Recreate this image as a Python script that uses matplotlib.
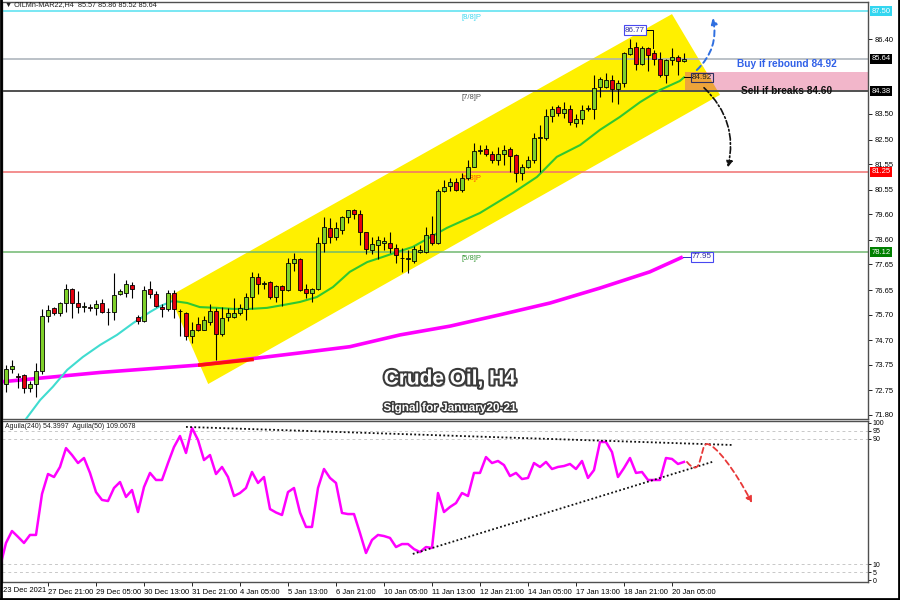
import matplotlib
matplotlib.use('Agg')
import matplotlib.pyplot as plt
import numpy as np
from matplotlib.patches import Polygon, Rectangle, FancyArrowPatch
from matplotlib.path import Path
import matplotlib.patheffects as pe
import matplotlib.transforms as mtransforms

plt.rcParams['font.family'] = ['Liberation Sans', 'DejaVu Sans']

# ---------------- data (H4 candles, OILMn-MAR22) ----------------
opens = [73.0, 73.59, 73.3, 73.35, 72.85, 73.0, 73.5, 75.65, 75.95, 75.75,
         76.15, 76.7, 76.15, 76.0, 76.0, 75.95, 76.15, 75.8, 75.8, 76.5,
         76.55, 76.85, 75.6, 75.45, 76.7, 76.5, 76.0, 75.9, 76.55, 75.85,
         75.75, 74.85, 75.35, 75.1, 75.4, 75.85, 74.95, 75.6, 75.6, 75.75,
         75.9, 76.4, 77.15, 76.88, 76.95, 76.4, 76.8, 76.65, 77.7, 77.85,
         76.7, 76.55, 76.7, 78.5, 79.05, 78.7, 79.0, 79.5, 79.75, 79.6,
         78.9, 78.2, 78.4, 78.5, 78.5, 78.3, 77.9, 77.85, 77.8, 78.15,
         78.15, 78.85, 78.5, 80.5, 80.7, 80.85, 80.55, 81.0, 81.45, 82.05,
         82.15, 81.95, 81.7, 81.95, 82.15, 81.9, 81.2, 81.45, 81.7, 82.55,
         82.55, 83.4, 83.75, 83.55, 83.7, 83.15, 83.3, 83.7, 83.7, 84.55,
         84.55, 84.8, 84.45, 84.7, 85.82, 86.1, 85.45, 86.05, 85.85, 85.65,
         85.0, 85.6, 85.72, 85.57]
highs = [73.74, 73.93, 73.43, 73.4, 73.1, 73.8, 75.9, 76.07, 76.0, 76.2,
         76.9, 76.75, 76.6, 76.2, 76.1, 76.25, 76.3, 75.96, 77.3, 76.7,
         77.05, 76.95, 75.7, 76.8, 77.0, 76.6, 76.1, 76.65, 76.65, 75.9,
         75.8, 75.4, 75.6, 75.65, 76.1, 75.95, 76.0, 75.95, 76.35, 76.1,
         76.55, 77.35, 77.3, 77.0, 77.0, 76.85, 76.85, 77.9, 78.1, 77.9,
         76.9, 76.75, 78.7, 79.5, 79.45, 79.3, 79.55, 79.78, 79.8, 79.75,
         78.9, 78.7, 78.75, 78.7, 78.9, 78.45, 78.3, 78.2, 78.35, 78.4,
         79.1, 79.55, 80.6, 80.95, 81.0, 81.0, 81.2, 81.7, 82.35, 82.3,
         82.3, 82.05, 82.2, 82.3, 82.2, 81.95, 81.55, 81.85, 82.75, 83.05,
         83.7, 83.8, 83.85, 83.95, 83.85, 83.5, 83.85, 83.85, 85.0, 84.95,
         85.1, 85.0, 84.8, 85.9, 86.4, 86.3, 86.15, 86.1, 86.0, 85.9,
         85.65, 86.05, 85.8, 85.86]
lows = [72.69, 73.43, 72.85, 72.65, 72.7, 72.5, 73.4, 75.4, 75.7, 75.65,
        75.8, 75.55, 75.75, 75.8, 75.85, 75.7, 75.75, 75.3, 75.5, 76.45,
        76.4, 76.35, 75.35, 75.4, 76.35, 76.0, 75.6, 75.85, 75.55, 74.85,
        74.7, 74.6, 75.05, 75.1, 75.3, 73.95, 74.85, 75.45, 75.55, 75.7,
        75.5, 75.9, 76.5, 76.7, 76.3, 76.2, 76.05, 76.6, 77.4, 76.6,
        76.35, 76.2, 76.65, 78.15, 78.5, 78.6, 78.85, 79.25, 79.4, 78.4,
        78.05, 78.05, 77.85, 78.2, 78.1, 77.7, 77.35, 77.3, 77.7, 78.1,
        78.1, 78.4, 78.45, 80.45, 80.5, 80.5, 80.45, 80.95, 81.45, 81.95,
        81.85, 81.6, 81.5, 81.5, 81.25, 80.85, 80.95, 81.4, 81.6, 81.25,
        82.5, 83.2, 83.4, 83.35, 83.05, 83.0, 83.1, 83.6, 83.3, 84.15,
        84.5, 83.95, 83.9, 84.55, 85.8, 85.2, 85.4, 85.15, 85.4, 84.95,
        84.7, 85.4, 85.0, 85.52]
closes = [73.59, 73.7, 73.28, 72.85, 73.0, 73.5, 75.65, 75.88, 75.75, 76.15,
          76.7, 76.15, 76.0, 76.02, 75.95, 76.1, 75.8, 75.78, 76.45, 76.6,
          76.9, 76.7, 75.45, 76.65, 76.5, 76.05, 75.9, 76.55, 75.9, 75.82,
          74.85, 75.1, 75.1, 75.5, 75.85, 74.95, 75.55, 75.75, 75.75, 75.95,
          76.4, 77.15, 76.9, 76.9, 76.4, 76.8, 76.65, 77.7, 77.85, 76.65,
          76.55, 76.7, 78.5, 79.1, 78.7, 79.05, 79.5, 79.75, 79.6, 78.9,
          78.25, 78.45, 78.6, 78.55, 78.3, 78.0, 77.88, 77.9, 78.25, 78.2,
          78.8, 78.5, 80.5, 80.65, 80.85, 80.55, 81.0, 81.45, 82.05, 82.1,
          81.95, 81.7, 81.95, 82.1, 81.85, 81.2, 81.45, 81.7, 82.55, 82.57,
          83.4, 83.7, 83.55, 83.7, 83.2, 83.3, 83.65, 83.72, 84.5, 84.85,
          84.8, 84.45, 84.7, 85.85, 86.05, 85.45, 86.05, 85.8, 85.65, 85.0,
          85.6, 85.7, 85.55, 85.64]

# fast moving average (bar position, price)
ma_pos = [3.2, 5.7, 7.8, 10.2, 12.8, 15.7, 18.5, 21.2, 24.0, 25.7, 27.8,
          30.2, 32.3, 35.2, 37.8, 40.7, 43.5, 46.2, 49.0, 51.8, 54.5, 57.3,
          60.2, 62.8, 65.2, 67.8, 73.5, 79.0, 84.5, 88.5, 91.8, 95.7, 99.0,
          102.3, 105.7, 109.0, 112.3, 113.0]
ma_val = [71.6, 72.38, 72.89, 73.55, 74.05, 74.52, 74.91, 75.37, 75.80, 76.03, 76.23,
          76.15, 75.99, 75.96, 75.92, 75.92, 75.96, 76.07, 76.19, 76.38, 76.77, 77.36,
          77.74, 77.94, 78.13, 78.33, 79.07, 79.65, 80.43, 81.05, 81.83, 82.29, 82.88,
          83.38, 83.96, 84.43, 84.78, 84.92]
ma_split = 27.8

# slow moving average
slow_pos = [-1, 15.7, 32.3, 49.0, 57.3, 65.7, 74.0, 82.3, 90.7, 99.0, 107.3, 112.8]
slow_val = [73.08, 73.45, 73.74, 74.21, 74.45, 74.91, 75.25, 75.69, 76.15, 76.73, 77.36, 77.94]

# Aguila oscillator, one value per bar starting one bar before first candle
aguila = [8.3, 23.6, 31.2, 27.5, 23.6, 28.7, 28.7, 54.8, 67.5, 65.6,
          72.0, 84.0, 79.6, 74.5, 77.7, 68.2, 56.0, 51.0, 50.3, 58.6,
          62.4, 52.9, 57.3, 43.3, 59.2, 68.2, 63.7, 63.7, 74.5, 84.7,
          91.7, 80.9, 96.8, 89.2, 76.4, 79.6, 67.5, 72.0, 65.6, 53.5,
          55.4, 58.6, 68.8, 61.8, 65.6, 45.2, 43.0, 41.4, 56.0, 58.6,
          43.0, 33.8, 33.8, 58.6, 70.7, 65.0, 61.8, 42.7, 42.0, 42.0,
          29.9, 17.2, 25.5, 28.7, 28.0, 26.8, 21.0, 22.9, 22.9, 19.7,
          17.8, 21.0, 20.4, 55.4, 43.3, 46.5, 49.0, 55.4, 53.5, 68.2,
          68.2, 78.3, 74.5, 75.8, 73.2, 66.2, 68.2, 64.3, 65.0, 74.5,
          72.0, 75.2, 70.7, 72.0, 72.6, 73.9, 70.7, 75.8, 65.0, 70.0,
          87.9, 87.9, 81.5, 65.6, 71.3, 77.7, 68.2, 68.8, 63.7, 63.7,
          63.7, 77.7, 77.1, 73.9, 75.2]

price_ticks = [86.40, 83.50, 82.50, 81.55, 80.55, 79.60, 78.60, 77.65,
               76.65, 75.70, 74.70, 73.75, 72.75, 71.80]
level_prices = [87.50, 85.64, 84.38, 81.25, 78.12]
level_colors = ['#55E0F0', '#A8B0B8', '#505050', '#F07070', '#70B870']
level_box = ['#33D6F0', '#000000', '#000000', '#FF0000', '#008000']
murrey_names = ['[8/8]P', '[7/8]P', '[6/8]P', '[5/8]P']
murrey_prices = [87.50, 84.38, 81.25, 78.12]
murrey_colors = ['#40D8F0', '#505050', '#FF4A10', '#3A9A3A']

date_pos = [7 + 8 * k for k in range(14)]
date_labels = ['27 Dec 21:00', '29 Dec 05:00', '30 Dec 13:00', '31 Dec 21:00',
               '4 Jan 05:00', '5 Jan 13:00', '6 Jan 21:00', '10 Jan 05:00',
               '11 Jan 13:00', '12 Jan 21:00', '14 Jan 05:00', '17 Jan 13:00',
               '18 Jan 21:00', '20 Jan 05:00']

# ---------------- figure ----------------
fig = plt.figure(figsize=(9, 6), dpi=100)
fig.patch.set_facecolor('white')
L, R = 2 / 900, 868 / 900
ax = fig.add_axes([L, 1 - 419 / 600, R - L, (419 - 2) / 600])
ax2 = fig.add_axes([L, 1 - 582 / 600, R - L, (582 - 421) / 600])
XMIN, XMAX = -0.667, 143.67
for a in (ax, ax2):
    a.set_xlim(XMIN, XMAX)
    for s in a.spines.values():
        s.set_color('#505050')
        s.set_linewidth(1.0)
ax.set_ylim(71.64, 87.85)
ax2.set_ylim(-1.27, 101.27)

# channel
chan = [(27.3, 76.42), (111.0, 87.38), (119.0, 84.24), (33.7, 73.0)]
ax.add_patch(Polygon(chan, closed=True, fc='#FFF000', ec='none', zorder=1))

# pink zone + intersection
zone = Rectangle((113.2, 84.43), XMAX - 113.2 + 2, 85.13 - 84.43, fc='#F2B6CA', ec='none', zorder=1.2)
ax.add_patch(zone)
inter = Polygon(chan, closed=True, fc='#EDA43A', ec='none', zorder=1.3)
ax.add_patch(inter)
inter.set_clip_path(Rectangle((113.2, 84.43), 30, 85.13 - 84.43, transform=ax.transData))

# horizontal levels
for p, col in zip(level_prices, level_colors):
    ax.axhline(p, color=col, lw=1.1 if col != '#505050' else 1.4, zorder=2)
for n, p, col in zip(murrey_names, murrey_prices, murrey_colors):
    ax.text(76.0, p - 0.12, n, fontsize=5.5, color=col, va='top', ha='left', zorder=3)

# slow MA
ax.plot(slow_pos, slow_val, color='#FF00FF', lw=2.6, zorder=3, solid_capstyle='butt')
ax.plot([32.3, 41.0], [73.74, 73.95], color='#FF1010', lw=2.6, zorder=3.1)

# fast MA (cyan then green)
mp = np.array(ma_pos); mv = np.array(ma_val)
k = np.searchsorted(mp, ma_split)
ax.plot(mp[:k + 1], mv[:k + 1], color='#40DCD0', lw=1.5, zorder=3)
ax.plot(mp[k:], mv[k:], color='#30C830', lw=1.5, zorder=3)

# candles
o = np.array(opens); h = np.array(highs); lo = np.array(lows); c = np.array(closes)
xs = np.arange(len(o))
ax.vlines(xs, lo, h, color='black', lw=0.8, zorder=5)
cols = np.where(c >= o, '#7FD02A', '#E3000F')
ax.bar(xs, np.maximum(np.abs(c - o), 0.035), bottom=np.minimum(o, c), width=0.64,
       color=cols, edgecolor='black', linewidth=0.6, zorder=6)

# right price axis
ax.yaxis.tick_right()
ax.set_yticks(price_ticks)
ax.set_yticklabels([f'{t:.2f}' for t in price_ticks])
ax.tick_params(axis='y', length=3, width=0.6, labelsize=5.5, pad=2, colors='black')
ax.tick_params(axis='x', bottom=False, labelbottom=False)
blend = mtransforms.blended_transform_factory(ax.transAxes, ax.transData)
for p, bc in zip(level_prices, level_box):
    ax.text(1.004, p, f'{p:.2f}', transform=blend, fontsize=5.5, color='white',
            va='center', ha='left', zorder=10, clip_on=False,
            bbox=dict(boxstyle='square,pad=0.2', fc=bc, ec='none'))

# price labels in chart
ax.plot([106.8, 107.8, 107.8], [86.76, 86.76, 86.06], color='black', lw=0.7, zorder=7)
ax.text(104.8, 86.76, '86.77', fontsize=5.8, color='#3030A0', ha='center', va='center', zorder=8,
        bbox=dict(boxstyle='square,pad=0.15', fc='white', ec='#4848F0', lw=0.8))
ax.plot([113.0, 114.4], [84.92, 84.92], color='black', lw=0.7, zorder=7)
ax.text(116.0, 84.92, '84.92', fontsize=5.8, color='#202020', ha='center', va='center', zorder=8,
        bbox=dict(boxstyle='square,pad=0.15', fc='none', ec='#303060', lw=0.8))
ax.plot([112.8, 114.4], [77.94, 77.94], color='#3030C0', lw=0.7, zorder=7)
ax.text(116.0, 77.94, '77.95', fontsize=5.8, color='#3030A0', ha='center', va='center', zorder=8,
        bbox=dict(boxstyle='square,pad=0.15', fc='white', ec='#4848F0', lw=0.8))

ax.text(121.8, 85.44, 'Buy if rebound 84.92', fontsize=7.3, fontweight='bold', color='#3060E8',
        ha='left', va='center', zorder=8)
ax.text(122.5, 84.39, 'Sell if breaks 84.60', fontsize=7.3, fontweight='bold', color='#111111',
        ha='left', va='center', zorder=8)

ax.add_patch(FancyArrowPatch((114.8, 85.13), (117.7, 87.34), connectionstyle='arc3,rad=0.3',
                             arrowstyle='-|>', mutation_scale=9, color='#2F6FE0', lw=1.4,
                             linestyle=(0, (3, 2)), zorder=9))
ax.add_patch(FancyArrowPatch((116.0, 84.59), (120.2, 81.32), connectionstyle='arc3,rad=-0.3',
                             arrowstyle='-|>', mutation_scale=9, color='#111111', lw=1.2,
                             linestyle=(0, (4, 1.5, 1, 1.5)), zorder=9))

# indicator panel
ind_x = np.arange(-1, len(aguila) - 1)
ax2.plot(ind_x, aguila, color='#FF00FF', lw=1.8, zorder=4)
for lv in (95, 90, 10, 5):
    ax2.axhline(lv, color='#C8C8C8', lw=0.7, ls=(0, (3, 3)), zorder=1)
ax2.plot([30, 121], [97.5, 86], color='#111111', lw=1.3, ls=(0, (1, 1.3)), zorder=5)
ax2.plot([67.8, 117.7], [16.6, 75.2], color='#111111', lw=1.3, ls=(0, (1, 1.3)), zorder=5)
verts = [(113.5, 75.2), (114.33, 71.3), (115.0, 70.1), (115.5, 73.9),
         (116.0, 79.6), (116.17, 86.6), (116.83, 86.6),
         (118.17, 86.6), (121.5, 70.1), (124.33, 49.0)]
codes = [Path.MOVETO] + [Path.CURVE4] * 9
ax2.add_patch(FancyArrowPatch(path=Path(verts, codes), arrowstyle='-|>', mutation_scale=9,
                              color='#E83838', lw=1.3, linestyle=(0, (3, 2)), zorder=6))

ax2.yaxis.tick_right()
ax2.set_yticks([100, 95, 90, 10, 5, 0])
ax2.set_yticklabels(['100', '95', '90', '10', '5', '0'])
ax2.tick_params(axis='y', length=2, width=0.6, labelsize=5, pad=1.5)
ax2.set_xticks(date_pos)
ax2.set_xticklabels(date_labels)
ax2.tick_params(axis='x', length=3, width=0.6, labelsize=5.5, pad=2)
for t in ax2.get_xticklabels():
    t.set_ha('left')
ax2.text(0.004, 0.985, 'Aguila(240) 54.3997  Aguila(50) 109.0678', transform=ax2.transAxes,
         fontsize=5, color='#202020', ha='left', va='top')

fig.text(3 / 900, 1 - 590 / 600, '23 Dec 2021', fontsize=5.5, ha='left', va='center')
fig.text(5 / 900, 1 - 5 / 600, '\u25bc OILMn-MAR22,H4  85.57 85.86 85.52 85.64', fontsize=5.2,
         ha='left', va='center', color='#202020')

effects = [pe.SimplePatchShadow(offset=(1.5, -1.5), shadow_rgbFace='#777777', alpha=0.7),
           pe.Stroke(linewidth=3, foreground='#3A3A3A'), pe.Normal()]
fig.text(450 / 900, 1 - 379 / 600, 'Crude Oil, H4', fontsize=15, fontweight='bold', color='white',
         ha='center', va='center', path_effects=effects)
effects2 = [pe.SimplePatchShadow(offset=(1, -1), shadow_rgbFace='#777777', alpha=0.7),
            pe.Stroke(linewidth=2.2, foreground='#3A3A3A'), pe.Normal()]
fig.text(450 / 900, 1 - 408 / 600, 'Signal for January20-21', fontsize=8.5, fontweight='bold',
         color='white', ha='center', va='center', path_effects=effects2)

# outer frame
fig.add_artist(plt.Line2D([0.001, 0.001], [0, 1], color='black', lw=2, transform=fig.transFigure))
fig.add_artist(plt.Line2D([0, 1], [0.002, 0.002], color='black', lw=2, transform=fig.transFigure))
fig.add_artist(plt.Line2D([0.999, 0.999], [0, 1], color='black', lw=2, transform=fig.transFigure))

fig.savefig('out.png', dpi=100, facecolor='white')
